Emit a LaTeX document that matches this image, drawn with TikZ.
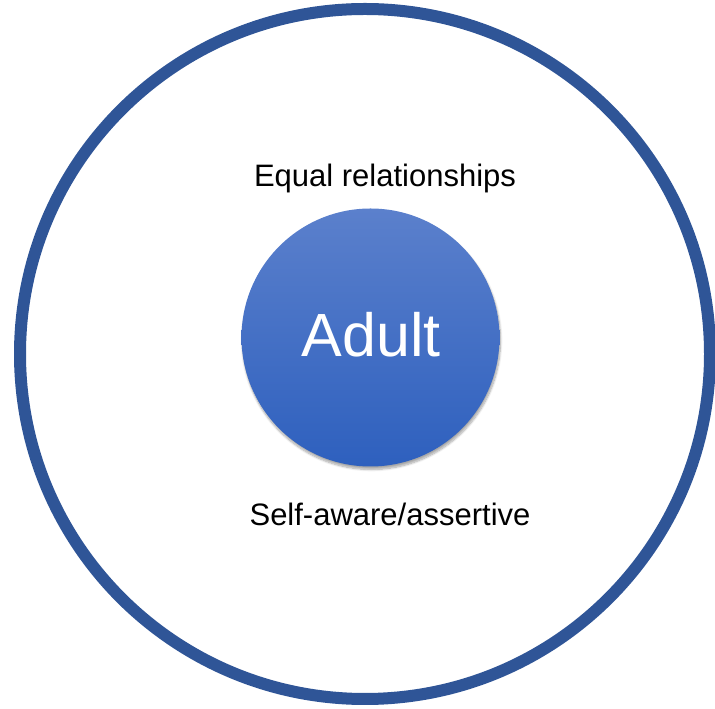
\documentclass[tikz,border=0pt]{standalone}
\usepackage{fontspec}
\setmainfont{Liberation Sans}
\usetikzlibrary{shadows.blur}
\definecolor{ringblue}{HTML}{2F5597}
\definecolor{adulttop}{HTML}{5B80CC}
\definecolor{adultbot}{HTML}{2E60BE}
\tikzset{
  ring/.style={draw=ringblue, line width=12pt},
  adultball/.style={circle, minimum size=258pt, inner sep=0pt,
    top color=adulttop, bottom color=adultbot, text=white,
    font=\fontsize{61}{61}\selectfont,
    blur shadow={shadow xshift=1pt, shadow yshift=-3pt, shadow blur steps=8, shadow opacity=35}},
  caption/.style={anchor=base, text=black, font=\fontsize{31}{31}\selectfont}
}
\begin{document}
\begin{tikzpicture}[x=1pt, y=1pt]
	\useasboundingbox (0,0) rectangle (715,709);
	\draw[ring] (365,355) circle(345);
	\node[adultball] (adult) at (370.5,371.5) {};
	\node[anchor=base, text=white, font=\fontsize{61}{61}\selectfont] (adulttext) at (371,352) {Adult};
	\node[caption] (equal) at (385,522) {Equal relationships};
	\node[caption] (self) at (390,183) {Self-aware/assertive};
\end{tikzpicture}
\end{document}
